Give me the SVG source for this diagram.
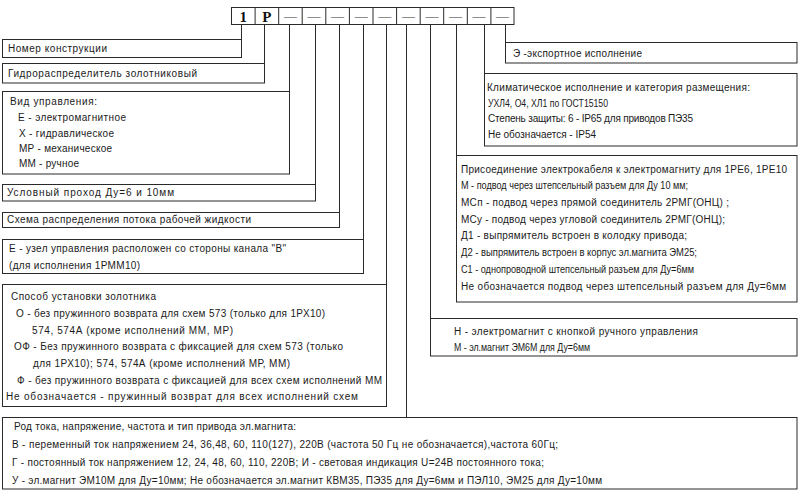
<svg xmlns="http://www.w3.org/2000/svg" width="800" height="499" viewBox="0 0 800 499">
<style>
.b{fill:#fff;stroke:#2a2a2a;stroke-width:1}
.c{stroke:#2a2a2a;stroke-width:1;fill:none}
.t{font-family:"Liberation Sans",Arial,sans-serif;font-size:10px;fill:#1a1a1a}
.code{font-family:"Liberation Serif","Times New Roman",serif;font-size:15px;font-weight:bold;fill:#111;text-anchor:middle}
.dash{font-family:"Liberation Serif","Times New Roman",serif;font-size:13px;fill:#333;text-anchor:middle}
</style>
<rect width="800" height="499" fill="#fff"/>
<g id="connectors">
<path class="c" d="M241.5 24V39.5M264.5 24V63.5M289.5 24V91.5M315.5 24V184.5M339.5 24V212.5M363.5 24V239.5M386.5 24V284.5M406.5 24V417.5M430.5 24V318.5M456.5 24V155.5M484.5 24V73.5M505.5 24V42.5"/>
</g>
<g id="code">
<rect class="b" x="231.5" y="7.5" width="282.5" height="17"/>
<path class="c" d="M255.1 7.5v17M278.7 7.5v17M302.2 7.5v17M325.8 7.5v17M349.4 7.5v17M373 7.5v17M396.6 7.5v17M420.2 7.5v17M443.7 7.5v17M467.3 7.5v17M490.9 7.5v17"/>
<text class="code" x="243.3" y="21.5">1</text>
<text class="code" x="266.9" y="21.5">Р</text>
<text class="dash" x="290.5" y="20">—</text>
<text class="dash" x="314" y="20">—</text>
<text class="dash" x="337.6" y="20">—</text>
<text class="dash" x="361.2" y="20">—</text>
<text class="dash" x="384.8" y="20">—</text>
<text class="dash" x="408.4" y="20">—</text>
<text class="dash" x="432" y="20">—</text>
<text class="dash" x="455.5" y="20">—</text>
<text class="dash" x="479.1" y="20">—</text>
<text class="dash" x="502.5" y="20">—</text>
</g>
<g id="n1">
<rect class="b" x="2.5" y="39.5" width="239" height="18"/>
<text class="t" x="8" y="52" textLength="99">Номер конструкции</text>
</g>
<g id="n2">
<rect class="b" x="2.5" y="63.5" width="262" height="19.5"/>
<text class="t" x="8" y="77" textLength="189">Гидрораспределитель золотниковый</text>
</g>
<g id="n3">
<rect class="b" x="2.5" y="91.5" width="287" height="82.5"/>
<text class="t" x="10" y="105" textLength="87">Вид управления:</text>
<text class="t" x="18" y="121" textLength="108">Е - электромагнитное</text>
<text class="t" x="19" y="137" textLength="95">Х - гидравлическое</text>
<text class="t" x="19" y="152" textLength="93">МР - механическое</text>
<text class="t" x="19" y="167" textLength="60">ММ - ручное</text>
</g>
<g id="n4">
<rect class="b" x="2.5" y="184.5" width="313" height="16.5"/>
<text class="t" x="7" y="196" textLength="167">Условный проход Ду=6 и 10мм</text>
</g>
<g id="n5">
<rect class="b" x="2.5" y="212.5" width="337" height="15"/>
<text class="t" x="7" y="223" textLength="244">Схема распределения  потока рабочей жидкости</text>
</g>
<g id="n6">
<rect class="b" x="2.5" y="239.5" width="361" height="34"/>
<text class="t" x="9" y="252" textLength="277">Е - узел управления расположен со стороны канала "В"</text>
<text class="t" x="9" y="269" textLength="131">(для исполнения 1РММ10)</text>
</g>
<g id="n7">
<rect class="b" x="2.5" y="284.5" width="384" height="122"/>
<text class="t" x="11" y="300" textLength="145">Способ установки  золотника</text>
<text class="t" x="16" y="317" textLength="309">О - без пружинного возврата для схем 573 (только для 1РХ10)</text>
<text class="t" x="32" y="333.5" textLength="201">574, 574А (кроме исполнений ММ, МР)</text>
<text class="t" x="14" y="350" textLength="329">ОФ - Без пружинного возврата с фиксацией для схем 573 (только</text>
<text class="t" x="33" y="367" textLength="257">для 1РХ10);  574, 574А (кроме исполнений МР, ММ)</text>
<text class="t" x="17" y="383.5" textLength="365">Ф - без пружинного возврата с фиксацией для всех схем исполнений ММ</text>
<text class="t" x="6" y="400" textLength="352">Не обозначается - пружинный возврат для всех исполнений схем</text>
</g>
<g id="n8">
<rect class="b" x="2.5" y="417.5" width="794.5" height="71.5"/>
<text class="t" x="14" y="430" textLength="282">Род тока, напряжение, частота и тип привода эл.магнита:</text>
<text class="t" x="12" y="448" textLength="546">В - переменный ток напряжением 24, 36,48, 60, 110(127), 220В (частота 50 Гц  не обозначается),частота 60Гц;</text>
<text class="t" x="12" y="466" textLength="532">Г - постоянный ток напряжением 12, 24, 48, 60, 110, 220В;  И - световая индикация U=24В постоянного тока;</text>
<text class="t" x="12" y="484" textLength="590">У - эл.магнит ЭМ10М  для Ду=10мм;  Не обозначается эл.магнит КВМ35, ПЭ35 для Ду=6мм и ПЭЛ10, ЭМ25 для Ду=10мм</text>
</g>
<g id="n9">
<rect class="b" x="505.5" y="42.5" width="291.5" height="20.5"/>
<text class="t" x="513" y="56.5" textLength="129">Э -экспортное исполнение</text>
</g>
<g id="n10">
<rect class="b" x="484.5" y="73.5" width="312.5" height="72.5"/>
<text class="t" x="487" y="90.5" textLength="263">Климатическое исполнение и категория размещения:</text>
<text class="t" x="488" y="106.5" textLength="120" lengthAdjust="spacingAndGlyphs">УХЛ4, О4, ХЛ1 по ГОСТ15150</text>
<text class="t" x="488" y="121.5" textLength="205">Степень защиты: 6 - IP65 для приводов ПЭ35</text>
<text class="t" x="488" y="137.5" textLength="108">Не обозначается - IP54</text>
</g>
<g id="n11">
<rect class="b" x="456.5" y="155.5" width="340.5" height="146.5"/>
<text class="t" x="461" y="172.5" textLength="326">Присоединение электрокабеля к электромагниту для 1РЕ6, 1РЕ10</text>
<text class="t" x="461" y="189.2" textLength="227" lengthAdjust="spacingAndGlyphs">М - подвод через штепсельный разъем для Ду 10 мм;</text>
<text class="t" x="461" y="205.9" textLength="268">МСп - подвод через прямой соединитель 2РМГ(ОНЦ) ;</text>
<text class="t" x="461" y="222.6" textLength="264">МСу - подвод через угловой соединитель 2РМГ(ОНЦ);</text>
<text class="t" x="461" y="239.4" textLength="226">Д1 - выпрямитель встроен в колодку привода;</text>
<text class="t" x="461" y="256.1" textLength="236" lengthAdjust="spacingAndGlyphs">Д2 - выпрямитель встроен в корпус эл.магнита ЭМ25;</text>
<text class="t" x="461" y="272.8" textLength="233" lengthAdjust="spacingAndGlyphs">С1 - однопроводной штепсельный разъем для Ду=6мм</text>
<text class="t" x="461" y="289.5" textLength="325">Не обозначается подвод через штепсельный разъем  для Ду=6мм</text>
</g>
<g id="n12">
<rect class="b" x="430.5" y="318.5" width="366.5" height="37.5"/>
<text class="t" x="454" y="334.5" textLength="244">Н - электромагнит с кнопкой ручного управления</text>
<text class="t" x="454" y="350.5" textLength="136" lengthAdjust="spacingAndGlyphs">М - эл.магнит ЭМ6М для Ду=6мм</text>
</g>
</svg>
